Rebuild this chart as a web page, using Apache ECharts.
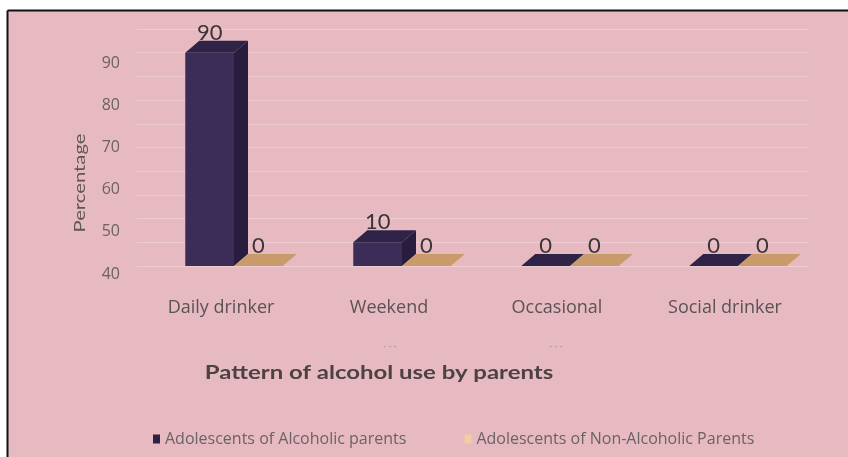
<!DOCTYPE html>
<html>
<head>
<meta charset="utf-8">
<style>
  html, body { margin: 0; padding: 0; background: #ffffff; }
  #chart { width: 848px; height: 457px; }
</style>
<script src="https://cdn.jsdelivr.net/npm/echarts@6/dist/echarts.min.js"></script>
</head>
<body>
<div id="chart"></div>
<script>
// Pattern of alcohol use by parents (percentages)
const categories = ['Daily drinker', 'Weekend', 'Occasional', 'Social drinker'];
const alcoholicParents = [90, 10, 0, 0];
const nonAlcoholicParents = [0, 0, 0, 0];
const seriesNames = ['Adolescents of Alcoholic parents', 'Adolescents of Non-Alcoholic Parents'];
const yTickLabels = ['40', '50', '60', '70', '80', '90'];
const yTickStep = 17.75;

// colours of the 3D faces: [front, side, top]
const faces = [
  ['#3b2c58', '#281c3f', '#2f2347'],
  ['#c99a6a', '#b08358', '#c99a6a']
];
const legendColors = ['#2e2240', '#f3cda4'];

// depth of the pseudo-3D columns
const DEPTH_X = 14;
const DEPTH_Y = 12;
const PAIR_SHIFT = 13;
const FONT = '"Open Sans", Lato, "Liberation Sans", sans-serif';

function makeRender(seriesIdx) {
  return function (params, api) {
    const cat = api.value(0);
    const val = api.value(1);
    const base = api.coord([cat, 0]);
    const top = api.coord([cat, val]);
    const bandW = api.size([1, 0])[0];
    const w = bandW * 0.29;
    const x0 = base[0] + PAIR_SHIFT + (seriesIdx === 0 ? -w : 0);
    const yt = top[1];
    const yb = base[1];
    const c = faces[seriesIdx];
    const children = [];
    if (yb - yt > 0.5) {
      children.push({
        type: 'rect',
        shape: { x: x0, y: yt, width: w, height: yb - yt },
        style: { fill: c[0] }
      });
      children.push({
        type: 'polygon',
        shape: { points: [[x0 + w, yt], [x0 + w + DEPTH_X, yt - DEPTH_Y], [x0 + w + DEPTH_X, yb - DEPTH_Y], [x0 + w, yb]] },
        style: { fill: c[1] }
      });
    }
    children.push({
      type: 'polygon',
      shape: { points: [[x0, yt], [x0 + DEPTH_X, yt - DEPTH_Y], [x0 + w + DEPTH_X, yt - DEPTH_Y], [x0 + w, yt]] },
      style: { fill: c[2] }
    });
    children.push({
      type: 'text',
      style: {
        text: String(val),
        x: x0 + w / 2,
        y: yt - DEPTH_Y + 3,
        align: 'center',
        verticalAlign: 'bottom',
        fill: '#3a3438',
        font: '22px Lato, "Liberation Sans", sans-serif'
      }
    });
    return { type: 'group', children: children };
  };
}

const chart = echarts.init(document.getElementById('chart'), null, { renderer: 'canvas' });

chart.setOption({
  animation: false,
  backgroundColor: '#ffffff',
  graphic: [
    { type: 'rect', z: -10, shape: { x: 8, y: 11, width: 840, height: 446 }, style: { fill: '#e7bac1' } },
    { type: 'line', z: 10, shape: { x1: 7.5, y1: 10.5, x2: 848, y2: 10.5 }, style: { stroke: '#111', lineWidth: 2 } },
    { type: 'line', z: 10, shape: { x1: 7.5, y1: 10.5, x2: 7.5, y2: 457 }, style: { stroke: '#111', lineWidth: 2 } },
    {
      type: 'text', x: 80, y: 183, rotation: Math.PI / 2, scaleX: 1.35,
      style: { text: 'Percentage', align: 'center', verticalAlign: 'middle', fill: '#5e5558', font: '15px Lato, "Liberation Sans", sans-serif' }
    },
    {
      type: 'text', x: 379, y: 373, scaleX: 1.26,
      style: { text: 'Pattern of alcohol use by parents', align: 'center', verticalAlign: 'middle', fill: '#4b4244', font: 'bold 19px Lato, "Liberation Sans", sans-serif' }
    },
    { type: 'text', x: 390, y: 346, style: { text: '· · ·', align: 'center', verticalAlign: 'middle', fill: '#a8959a', font: '10px Lato, sans-serif' } },
    { type: 'text', x: 556, y: 346, style: { text: '· · ·', align: 'center', verticalAlign: 'middle', fill: '#a8959a', font: '10px Lato, sans-serif' } }
  ],
  grid: { left: 137, top: 29, width: 672, height: 237, containLabel: false },
  legend: {
    left: 148, top: 426,
    icon: 'rect', itemWidth: 7, itemHeight: 9, itemGap: 58,
    textStyle: { color: '#6a6266', fontSize: 16, fontFamily: FONT },
    data: [
      { name: seriesNames[0], itemStyle: { color: legendColors[0] } },
      { name: seriesNames[1], itemStyle: { color: legendColors[1] } }
    ],
    selectedMode: false
  },
  xAxis: {
    type: 'category',
    data: categories,
    axisLine: { show: false },
    axisTick: { show: false },
    axisLabel: { margin: 33, color: '#5a5255', fontSize: 18, fontFamily: FONT }
  },
  yAxis: [
    {
      type: 'value', min: 0, max: 100, interval: yTickStep,
      axisLine: { show: false }, axisTick: { show: false }, splitLine: { show: false },
      axisLabel: {
        margin: 17, verticalAlign: 'top',
        color: '#6a6266', fontSize: 16, fontFamily: FONT,
        formatter: function (v) {
          const i = Math.round(v / yTickStep);
          return yTickLabels[i] !== undefined ? yTickLabels[i] : '';
        }
      }
    },
    {
      type: 'value', min: 0, max: 100, interval: 10, position: 'left',
      axisLine: { show: false }, axisTick: { show: false }, axisLabel: { show: false },
      splitLine: { show: true, lineStyle: { color: 'rgba(255,255,255,0.28)', width: 1 } }
    }
  ],
  series: [
    {
      name: seriesNames[0], type: 'custom', yAxisIndex: 0,
      itemStyle: { color: legendColors[0] },
      renderItem: makeRender(0),
      encode: { x: 0, y: 1 },
      data: alcoholicParents.map((v, i) => [i, v]),
      z: 2
    },
    {
      name: seriesNames[1], type: 'custom', yAxisIndex: 0,
      itemStyle: { color: legendColors[1] },
      renderItem: makeRender(1),
      encode: { x: 0, y: 1 },
      data: nonAlcoholicParents.map((v, i) => [i, v]),
      z: 3
    }
  ]
});
</script>
</body>
</html>
